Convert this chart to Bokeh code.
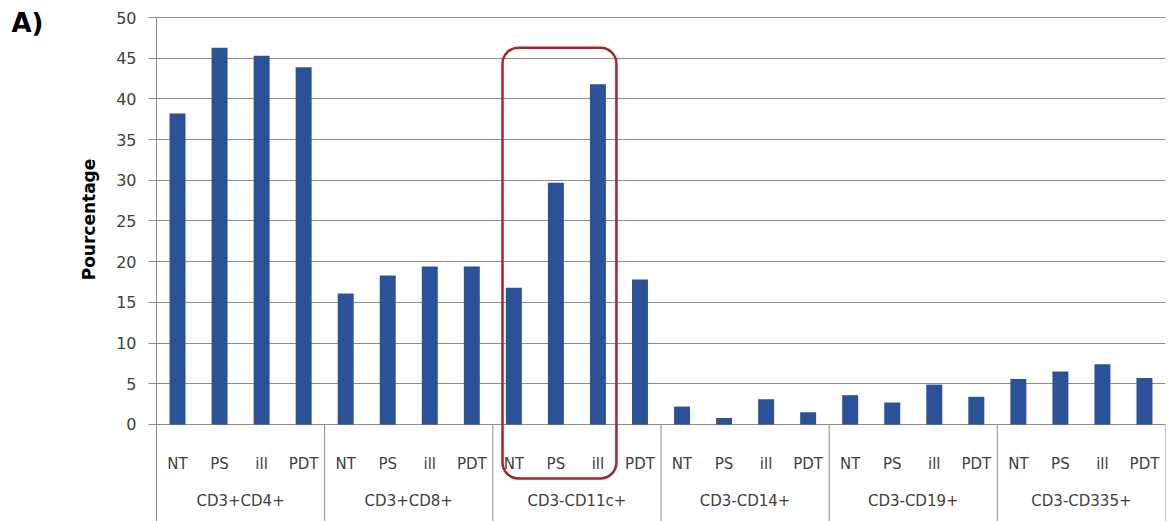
import math
from bokeh.plotting import figure
from bokeh.layouts import row
from bokeh.models import ColumnDataSource, FactorRange, Range1d, FixedTicker
from bokeh.core.properties import value
from bokeh.embed import file_html
from bokeh.resources import INLINE

# ---------------- data ----------------
groups = ["CD3+CD4+", "CD3+CD8+", "CD3-CD11c+", "CD3-CD14+", "CD3-CD19+", "CD3-CD335+"]
conditions = ["NT", "PS", "ill", "PDT"]
nt_values = [38.2, 16.1, 16.8, 2.2, 3.6, 5.6]
ps_values = [46.3, 18.3, 29.7, 0.8, 2.7, 6.5]
ill_values = [45.3, 19.4, 41.8, 3.1, 4.9, 7.4]
pdt_values = [43.9, 19.4, 17.8, 1.5, 3.4, 5.7]
y_ticks = [0, 5, 10, 15, 20, 25, 30, 35, 40, 45, 50]
y_label = "Pourcentage"
panel_label = "A)"
highlight_group = "CD3-CD11c+"

# ---------------- styling ----------------
FONT = "DejaVu Sans"
BAR_COLOR = "#2b5198"
GRID_COLOR = "#8c8c8c"
TEXT_COLOR = "#404040"
HIGHLIGHT_COLOR = "#a8232b"
Y_MIN, Y_MAX = -11.92, 52.09      # view window (frame spans the full height)
AXIS_TOP = 50
SUB_LABEL_Y = -4.8
GROUP_LABEL_Y = -9.35
LEFT_W = 100
TOTAL_H = 521

series = [nt_values, ps_values, ill_values, pdt_values]
factors = [(g, c) for g in groups for c in conditions]
tops = [series[j][i] for i in range(len(groups)) for j in range(len(conditions))]

# ---------------- side panel with the outer texts ----------------
side = figure(width=LEFT_W, height=TOTAL_H, output_backend="svg", toolbar_location=None,
              x_range=Range1d(0, LEFT_W), y_range=Range1d(TOTAL_H, 0),
              x_axis_location=None, y_axis_location=None,
              min_border_left=0, min_border_right=0, min_border_top=0, min_border_bottom=0)
side.outline_line_color = None
side.grid.grid_line_color = None
side.text(x=[88], y=[219], text=[y_label], angle=math.pi / 2, text_align="center",
          text_baseline="middle", text_font=value(FONT), text_font_size="17px",
          text_font_style="bold", text_color="black")
side.text(x=[11], y=[22], text=[panel_label], text_align="left",
          text_baseline="alphabetic", text_font=value(FONT), text_font_size="26px",
          text_font_style="bold", text_color="black")

# ---------------- main chart ----------------
p = figure(
    x_range=FactorRange(*factors, factor_padding=0, group_padding=0, range_padding=0),
    y_range=Range1d(Y_MIN, Y_MAX),
    width=1168 - LEFT_W, height=TOTAL_H,
    output_backend="svg", toolbar_location=None,
    x_axis_location=None,
    min_border_left=156 - LEFT_W, min_border_right=3, min_border_top=0, min_border_bottom=0,
)
p.outline_line_color = None
p.background_fill_color = "white"
p.border_fill_color = "white"

# bars
src = ColumnDataSource(dict(x=factors, top=tops))
p.vbar(x="x", top="top", bottom=0, width=0.38, source=src,
       fill_color=BAR_COLOR, line_color=None)

# grid & y axis
p.xgrid.grid_line_color = None
p.ygrid.ticker = FixedTicker(ticks=y_ticks)
p.ygrid.grid_line_color = GRID_COLOR
p.ygrid.grid_line_width = 1
yax = p.yaxis[0]
yax.ticker = FixedTicker(ticks=y_ticks)
yax.bounds = (Y_MIN, AXIS_TOP)
yax.axis_line_color = GRID_COLOR
yax.major_tick_line_color = GRID_COLOR
yax.major_tick_out = 8
yax.major_tick_in = 0
yax.minor_tick_line_color = None
yax.major_label_standoff = 12
yax.major_label_text_font = FONT
yax.major_label_text_font_size = "16px"
yax.major_label_text_color = TEXT_COLOR

# category table: sub labels, group labels, separators
sub_src = ColumnDataSource(dict(x=factors, y=[SUB_LABEL_Y] * len(factors),
                                text=[f[1] for f in factors]))
p.text(x="x", y="y", text="text", source=sub_src, text_align="center",
       text_baseline="middle", text_font=value(FONT), text_font_size="15px",
       text_color=TEXT_COLOR)
grp_src = ColumnDataSource(dict(x=groups, y=[GROUP_LABEL_Y] * len(groups), text=groups))
p.text(x="x", y="y", text="text", source=grp_src, text_align="center",
       text_baseline="middle", text_font=value(FONT), text_font_size="15px",
       text_color=TEXT_COLOR)
sep_x = [(g, conditions[-1], 0.5) for g in groups]
sep_src = ColumnDataSource(dict(x0=sep_x, x1=sep_x, y0=[0] * len(sep_x), y1=[Y_MIN] * len(sep_x)))
p.segment(x0="x0", y0="y0", x1="x1", y1="y1", source=sep_src,
          line_color=GRID_COLOR, line_width=1)

# highlight rounded box
hl_src = ColumnDataSource(dict(
    left=[(highlight_group, conditions[0], -0.27)],
    right=[(highlight_group, conditions[2], 0.44)],
    top=[46.3], bottom=[-6.63]))
p.quad(left="left", right="right", top="top", bottom="bottom", source=hl_src,
       fill_color=None, line_color=HIGHLIGHT_COLOR, line_width=2.5, border_radius=16)

layout = row(side, p, spacing=0)
open("out.html", "w").write(file_html(layout, INLINE))
